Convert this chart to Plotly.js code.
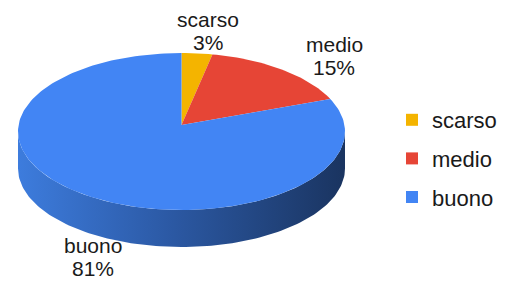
<!DOCTYPE html>
<html>
<head>
<meta charset="utf-8">
<script src="https://cdn.plot.ly/plotly-3.0.1.min.js"></script>
<style>html,body{margin:0;padding:0;background:#fff;}#chart{width:505px;height:281px;}</style>
</head>
<body>
<div id="chart"></div>
<script>
// ---- data ----
const categories = ['scarso', 'medio', 'buono'];
const values = [3, 15, 81];
const pctLabels = ['3%', '15%', '81%'];
const colors = ['#F4B400', '#E64536', '#4285F4'];

// ---- geometry (pixel-like data units) ----
const cx = 181.5, cy = 131.5, rx = 163.5, ry = 78.5, depth = 37;
const apex = [181.5, 125];
const labelPos = [
  {x: 208, yName: 19, yPct: 42.5},
  {x: 334, yName: 44, yPct: 67.5},
  {x: 93, yName: 245, yPct: 268.5}
];
const FONT = 'Liberation Sans, Arial, sans-serif';

const total = values.reduce((a, b) => a + b, 0);
const traces = [];

// side band (front half of the disc)
const sx = [], sy = [];
const N = 120;
for (let i = 0; i <= N; i++) {
  const t = Math.PI * i / N;
  sx.push(cx + rx * Math.cos(t));
  sy.push(cy + ry * Math.sin(t));
}
for (let i = N; i >= 0; i--) {
  const t = Math.PI * i / N;
  sx.push(cx + rx * Math.cos(t));
  sy.push(cy + ry * Math.sin(t) + depth);
}
traces.push({
  x: sx, y: sy, type: 'scatter', mode: 'lines', fill: 'toself',
  line: {width: 0, color: 'rgba(0,0,0,0)'},
  fillcolor: '#2b58a3',
  fillgradient: {type: 'horizontal', colorscale: [[0, '#3d7cdd'], [0.45, '#2c5aa6'], [1, '#1a3460']]},
  showlegend: false, hoverinfo: 'skip'
});

// top face slices
let cum = 0;
categories.forEach((cat, i) => {
  const f0 = cum / total, f1 = (cum + values[i]) / total;
  cum += values[i];
  const xs = [apex[0]], ys = [apex[1]];
  const steps = Math.max(4, Math.ceil((f1 - f0) * 240));
  for (let k = 0; k <= steps; k++) {
    const phi = 2 * Math.PI * (f0 + (f1 - f0) * k / steps);
    xs.push(cx + rx * Math.sin(phi));
    ys.push(cy - ry * Math.cos(phi));
  }
  xs.push(apex[0]); ys.push(apex[1]);
  traces.push({
    x: xs, y: ys, type: 'scatter', mode: 'lines', fill: 'toself',
    fillcolor: colors[i], line: {width: 0, color: colors[i]},
    showlegend: false, hoverinfo: 'skip', name: cat
  });
});

// legend entries
categories.forEach((cat, i) => {
  traces.push({
    x: [null], y: [null], type: 'scatter', mode: 'markers',
    marker: {symbol: 'square', size: 12, color: colors[i]},
    name: cat, legendgroup: cat, showlegend: true
  });
});

// labels
const annotations = [];
categories.forEach((cat, i) => {
  const p = labelPos[i];
  annotations.push({x: p.x, y: p.yName, xref: 'x', yref: 'y', text: cat, showarrow: false,
    font: {family: FONT, size: 21, color: '#1a1a1a'}});
  annotations.push({x: p.x, y: p.yPct, xref: 'x', yref: 'y', text: pctLabels[i], showarrow: false,
    font: {family: FONT, size: 21, color: '#1a1a1a'}});
});

const layout = {
  width: 505, height: 281,
  margin: {l: 0, r: 0, t: 0, b: 0},
  paper_bgcolor: '#ffffff', plot_bgcolor: '#ffffff',
  xaxis: {range: [0, 505], visible: false, fixedrange: true},
  yaxis: {range: [281, 0], visible: false, fixedrange: true},
  showlegend: true,
  legend: {
    x: 392 / 505, xanchor: 'left', y: 1 - 99 / 281, yanchor: 'top',
    traceorder: 'grouped', tracegroupgap: 7,
    font: {family: FONT, size: 22, color: '#1a1a1a'},
    bgcolor: 'rgba(0,0,0,0)'
  },
  annotations: annotations
};

Plotly.newPlot('chart', traces, layout, {displayModeBar: false, staticPlot: true});
</script>
</body>
</html>
